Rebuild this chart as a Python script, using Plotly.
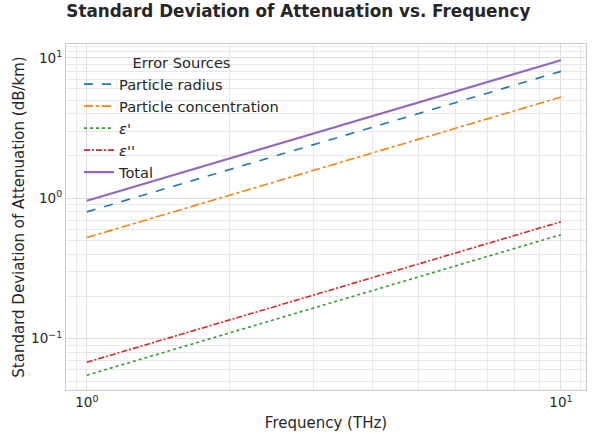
import plotly.graph_objects as go

freq = [1, 2, 3, 4, 5, 6, 7, 8, 9, 10]
radius = [0.80, 1.60, 2.40, 3.20, 4.00, 4.80, 5.60, 6.40, 7.20, 8.00]
concentration = [0.525, 1.05, 1.575, 2.10, 2.625, 3.15, 3.675, 4.20, 4.725, 5.25]
eps_real = [0.055, 0.110, 0.165, 0.220, 0.275, 0.330, 0.385, 0.440, 0.495, 0.550]
eps_imag = [0.068, 0.136, 0.204, 0.272, 0.340, 0.408, 0.476, 0.544, 0.612, 0.680]
total = [0.96, 1.92, 2.88, 3.84, 4.80, 5.76, 6.72, 7.68, 8.64, 9.60]

series = [
    ("Particle radius", radius, "#1f77b4", "dash", 1.6),
    ("Particle concentration", concentration, "#ff7f0e", "dashdot", 1.6),
    ("<i>ε</i>'", eps_real, "#2ca02c", "dot", 1.6),
    ("<i>ε</i>''", eps_imag, "#d62728", "6px,2px,2px,2px", 1.6),
    ("Total", total, "#9467bd", "solid", 2.2),
]

fig = go.Figure()
for name, vals, color, dash, w in series:
    fig.add_trace(go.Scatter(x=freq, y=vals, mode="lines", name=name,
                             line=dict(color=color, dash=dash, width=w)))

xminor = [2, 3, 4, 5, 6, 7, 8, 9, 0.9, 0.95, 11]
yminor = [0.05, 0.06, 0.07, 0.08, 0.09, 0.2, 0.3, 0.4, 0.5, 0.6, 0.7, 0.8, 0.9,
          2, 3, 4, 5, 6, 7, 8, 9, 11, 12]

fig.update_layout(
    width=592, height=434,
    margin=dict(l=66, r=5, t=44, b=39),
    paper_bgcolor="white", plot_bgcolor="white",
    font=dict(family="DejaVu Sans", size=13, color="#262626"),
    title=dict(text="<b>Standard Deviation of Attenuation vs. Frequency</b>",
               x=0.112, xanchor="left", y=0.988, yanchor="top",
               font=dict(size=16.8, color="#262626")),
    showlegend=True,
    legend=dict(x=0.025, y=0.985, xanchor="left", yanchor="top",
                bgcolor="rgba(255,255,255,0)", borderwidth=0,
                font=dict(size=14.6, color="#262626"),
                title=dict(text="Error Sources", side="top center",
                           font=dict(size=14.6, color="#262626")),
                tracegroupgap=0, itemwidth=30),
)
fig.update_xaxes(type="log", range=[-0.044, 1.053],
                 tickvals=[1, 10], ticktext=["10<sup>0</sup>", "10<sup>1</sup>"],
                 showgrid=True, gridcolor="#dedede", gridwidth=1,
                 minor=dict(tickvals=xminor, showgrid=True, gridcolor="#e8e8e8", gridwidth=0.8),
                 showline=True, linecolor="#cccccc", linewidth=1.2, mirror=True,
                 ticks="", zeroline=False,
                 title=dict(text="Frequency (THz)", font=dict(size=15), standoff=8),
                 tickfont=dict(size=13.5))
fig.update_yaxes(type="log", range=[-1.365, 1.098],
                 tickvals=[0.1, 1, 10], ticktext=["10<sup>−1</sup>", "10<sup>0</sup>", "10<sup>1</sup>"],
                 showgrid=True, gridcolor="#dedede", gridwidth=1,
                 minor=dict(tickvals=yminor, showgrid=True, gridcolor="#e8e8e8", gridwidth=0.8),
                 showline=True, linecolor="#cccccc", linewidth=1.2, mirror=True,
                 ticks="", zeroline=False,
                 title=dict(text="Standard Deviation of Attenuation (dB/km)", font=dict(size=15), standoff=2),
                 tickfont=dict(size=13.5))

fig.write_html("out.html")
